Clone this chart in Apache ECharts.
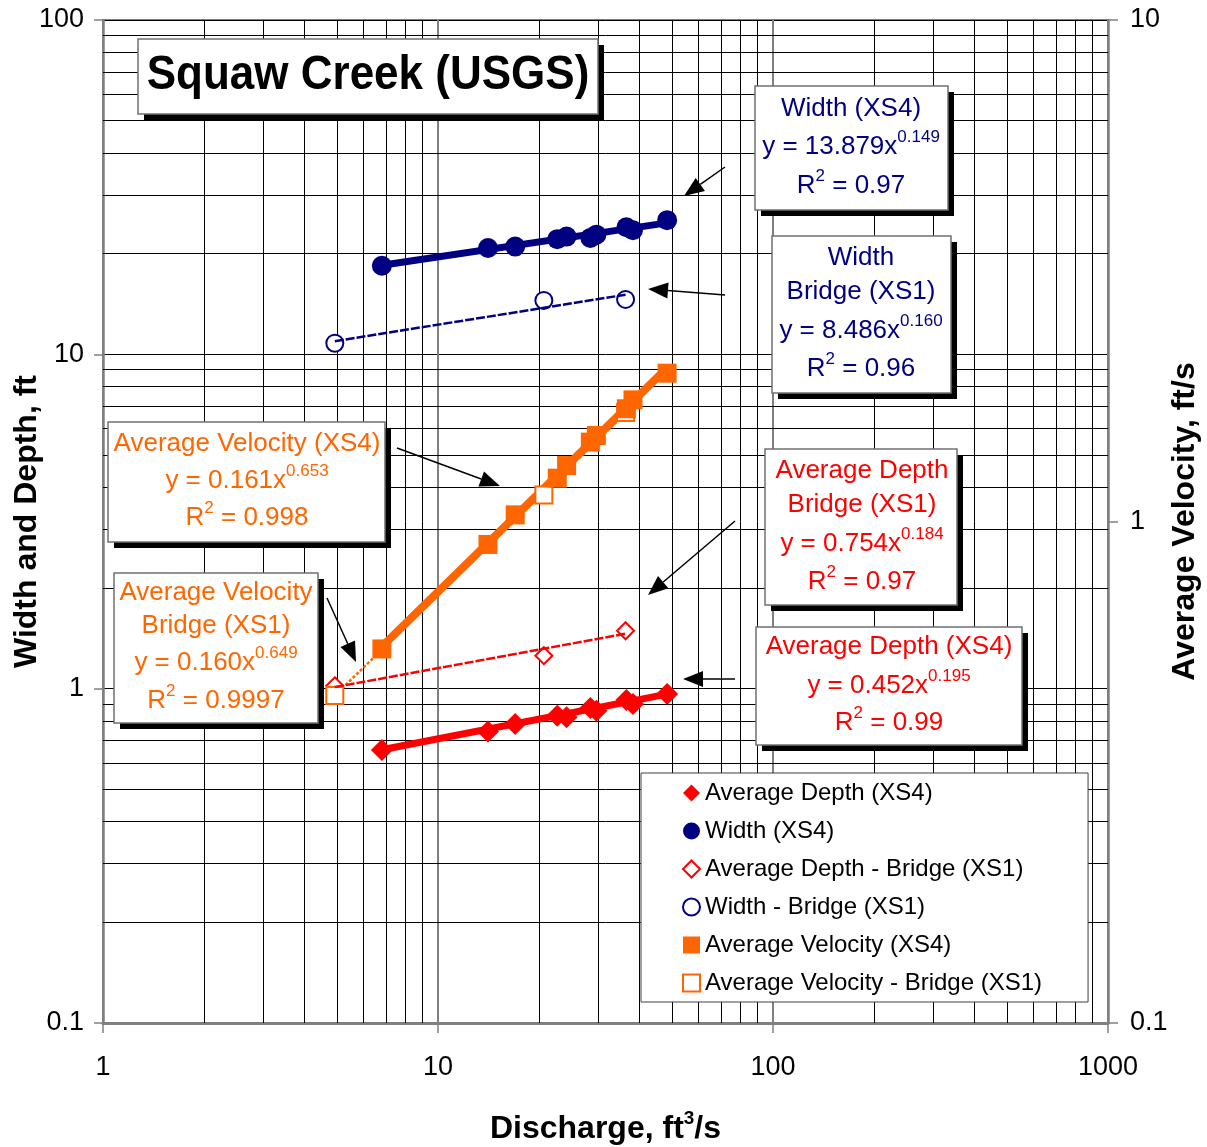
<!DOCTYPE html>
<html>
<head>
<meta charset="utf-8">
<script src="https://cdn.jsdelivr.net/npm/echarts@6/dist/echarts.min.js"></script>
<style>
  html, body { margin: 0; padding: 0; background: #fff; }
  #chart { width: 1207px; height: 1147px; }
</style>
</head>
<body>
<div id="chart"></div>
<script>
// Gauged flows at the upstream section (XS4), ft3/s
const dischargeXS4 = [6.8, 14.1, 17.0, 22.7, 24.2, 28.5, 29.7, 36.5, 38.2, 48.3];
const depthXS4     = [0.656, 0.745, 0.784, 0.830, 0.821, 0.876, 0.859, 0.925, 0.900, 0.964];
const widthXS4     = [18.4, 20.8, 21.0, 22.1, 22.5, 22.3, 22.8, 24.0, 23.5, 25.2];
const velocityXS4  = [0.557, 0.900, 1.031, 1.22, 1.293, 1.44, 1.484, 1.678, 1.748, 1.976];

// Measurements at the bridge section (XS1)
const dischargeXS1 = [4.92, 20.7, 36.3];
const depthXS1     = [1.02, 1.255, 1.49];
const widthXS1     = [10.8, 14.5, 14.6];
const velocityXS1  = [0.450, 1.13, 1.65];

// Power-law fits y = a * x^b  ->  [a, b]
const fitWidthXS4    = [13.879, 0.149];
const fitWidthXS1    = [8.486, 0.160];
const fitDepthXS4    = [0.452, 0.195];
const fitDepthXS1    = [0.754, 0.184];
const fitVelocityXS4 = [0.161, 0.653];
const fitVelocityXS1 = [0.160, 0.649];

// Decade labels on each axis
const dischargeTicks = [1, 10, 100, 1000];
const sizeTicks      = [0.1, 1, 10, 100];
const velocityTicks  = [0.1, 1, 10];

const NAVY = '#000080', RED = '#FF0000', ORANGE = '#FF6600';
const FONT = '"Liberation Sans", Arial, sans-serif';

function pairs(xs, ys) { return xs.map((x, i) => [x, ys[i]]); }
function fitLine(xs, fit) {
  const lo = Math.min(...xs), hi = Math.max(...xs);
  return [[lo, fit[0] * Math.pow(lo, fit[1])], [hi, fit[0] * Math.pow(hi, fit[1])]];
}

// Minor log gridlines (2..9 in every decade)
function minorValues(lo, hi) {
  const out = [];
  for (let d = lo; d < hi; d *= 10) for (let k = 2; k <= 9; k++) out.push(+(d * k).toPrecision(3));
  return out;
}
const xMin = dischargeTicks[0], xMax = dischargeTicks[dischargeTicks.length - 1];
const yMin = sizeTicks[0], yMax = sizeTicks[sizeTicks.length - 1];
const gridLines = [];
minorValues(xMin, xMax).forEach(v => gridLines.push({ coords: [[v, yMin], [v, yMax]] }));
minorValues(yMin, yMax).forEach(v => gridLines.push({ coords: [[xMin, v], [xMax, v]] }));

// ---- annotation helpers ----
const ZN = 100;
const rich = (color) => ({
  m: { fontSize: 26, fontFamily: FONT, color: color },
  s: { fontSize: 17, fontFamily: FONT, color: color, padding: [0, 0, 20, 0] }
});
function noteBox(x, y, w, h, color, cx, lines) {
  const children = [
    { type: 'rect', z: ZN, shape: { x: x + 6, y: y + 6, width: w, height: h }, style: { fill: '#000' } },
    { type: 'rect', z: ZN, shape: { x: x, y: y, width: w, height: h }, style: { fill: '#fff', stroke: '#707070', lineWidth: 1.5 } }
  ];
  lines.forEach(([ly, txt]) => {
    children.push({
      type: 'text', z: ZN + 1, x: cx, y: ly,
      style: { text: txt, rich: rich(color), align: 'center', verticalAlign: 'middle', font: '26px ' + FONT, fill: color }
    });
  });
  return { type: 'group', z: ZN, children: children };
}
function arrow(x1, y1, x2, y2) {
  const ang = Math.atan2(y2 - y1, x2 - x1), L = 20, W = 8;
  const bx = x2 - L * Math.cos(ang), by = y2 - L * Math.sin(ang);
  const px = -Math.sin(ang) * W, py = Math.cos(ang) * W;
  return {
    type: 'group', z: ZN, children: [
      { type: 'line', z: ZN, shape: { x1: x1, y1: y1, x2: bx, y2: by }, style: { stroke: '#000', lineWidth: 1.5 } },
      { type: 'polygon', z: ZN, shape: { points: [[x2, y2], [bx + px, by + py], [bx - px, by - py]] }, style: { fill: '#000' } }
    ]
  };
}

const chart = echarts.init(document.getElementById('chart'), null, { renderer: 'canvas' });

const labelStyle = { fontSize: 27, fontFamily: FONT, color: '#000' };
const nameStyle = { fontSize: 32, fontWeight: 'bold', fontFamily: FONT, color: '#000' };

chart.setOption({
  backgroundColor: '#fff',
  animation: false,
  grid: {
    left: 103, right: 99, top: 20, bottom: 124, containLabel: false, outerBoundsMode: 'none',
    show: true, borderColor: '#808080', borderWidth: 2
  },
  xAxis: {
    type: 'log', logBase: 10, min: xMin, max: xMax,
    name: '{b|Discharge, ft}{sup|3}{b|/s}',
    nameLocation: 'middle', nameGap: 86, nameMoveOverlap: false,
    nameTextStyle: {
      rich: {
        b: { fontSize: 32, fontWeight: 'bold', fontFamily: FONT, color: '#000' },
        sup: { fontSize: 19, fontWeight: 'bold', fontFamily: FONT, color: '#000', padding: [0, 0, 22, 0] }
      }
    },
    axisLine: { show: true, lineStyle: { color: '#808080', width: 3 } },
    axisTick: { show: true, inside: false, length: 10, lineStyle: { color: '#808080', width: 1.5 } },
    axisLabel: { ...labelStyle, margin: 31, formatter: v => dischargeTicks.includes(+v) ? String(+v) : '' },
    splitLine: { show: true, lineStyle: { color: '#808080', width: 2 } },
    minorTick: { show: false }, minorSplitLine: { show: false }
  },
  yAxis: [
    {
      type: 'log', logBase: 10, min: yMin, max: yMax, position: 'left',
      name: 'Width and Depth, ft', nameLocation: 'middle', nameGap: 60, nameRotate: 90, nameMoveOverlap: false,
      nameTextStyle: nameStyle,
      axisLine: { show: true, lineStyle: { color: '#808080', width: 2.5 } },
      axisTick: { show: true, inside: false, length: 9, lineStyle: { color: '#808080', width: 1.5 } },
      axisLabel: { ...labelStyle, margin: 19, formatter: v => sizeTicks.includes(+v) ? String(+v) : '' },
      splitLine: { show: true, lineStyle: { color: '#000', width: 1 } }
    },
    {
      type: 'log', logBase: 10, min: velocityTicks[0], max: velocityTicks[velocityTicks.length - 1], position: 'right',
      name: 'Average Velocity, ft/s', nameLocation: 'middle', nameGap: 61, nameRotate: 90, nameMoveOverlap: false,
      nameTextStyle: nameStyle,
      axisLine: { show: true, lineStyle: { color: '#808080', width: 2.5 } },
      axisTick: { show: true, inside: false, length: 10, lineStyle: { color: '#808080', width: 1.5 } },
      axisLabel: { ...labelStyle, margin: 22, formatter: v => velocityTicks.includes(+v) ? String(+v) : '' },
      splitLine: { show: false }
    }
  ],
  legend: {
    orient: 'vertical', left: 641, top: 773,
    backgroundColor: '#fff', borderColor: '#404040', borderWidth: 1,
    padding: [8, 46, 7, 41],
    itemWidth: 17, itemHeight: 17, itemGap: 14,
    textStyle: { fontSize: 24, fontFamily: FONT, color: '#000', lineHeight: 24 },
    data: ['Average Depth (XS4)', 'Width (XS4)', 'Average Depth - Bridge (XS1)',
           'Width - Bridge (XS1)', 'Average Velocity (XS4)', 'Average Velocity - Bridge (XS1)'],
    z: 50
  },
  graphic: [
    {
      type: 'group', z: ZN, children: [
        { type: 'rect', z: ZN, shape: { x: 144, y: 45, width: 460, height: 75 }, style: { fill: '#000' } },
        { type: 'rect', z: ZN, shape: { x: 138, y: 39, width: 460, height: 75 }, style: { fill: '#fff', stroke: '#707070', lineWidth: 1.5 } },
        { type: 'text', z: ZN + 1, x: 368, y: 76, scaleY: 1.08, originY: 0,
          style: { text: 'Squaw Creek (USGS)', font: 'bold 44px ' + FONT, fill: '#000', align: 'center', verticalAlign: 'middle' } }
      ]
    },
    noteBox(755, 86, 193, 124, NAVY, 851, [
      [109, '{m|Width (XS4)}'], [147, '{m|y = 13.879x}{s|0.149}'], [186, '{m|R}{s|2}{m| = 0.97}']
    ]),
    noteBox(772, 236, 179, 157, NAVY, 861, [
      [258, '{m|Width}'], [292, '{m|Bridge (XS1)}'], [331, '{m|y = 8.486x}{s|0.160}'], [369, '{m|R}{s|2}{m| = 0.96}']
    ]),
    noteBox(108, 422, 277, 120, ORANGE, 247, [
      [444, '{m|Average Velocity (XS4)}'], [481, '{m|y = 0.161x}{s|0.653}'], [518, '{m|R}{s|2}{m| = 0.998}']
    ]),
    noteBox(114, 573, 204, 150, ORANGE, 216, [
      [593, '{m|Average Velocity}'], [626, '{m|Bridge (XS1)}'], [663, '{m|y = 0.160x}{s|0.649}'], [701, '{m|R}{s|2}{m| = 0.9997}']
    ]),
    noteBox(765, 449, 192, 156, RED, 862, [
      [471, '{m|Average Depth}'], [505, '{m|Bridge (XS1)}'], [544, '{m|y = 0.754x}{s|0.184}'], [582, '{m|R}{s|2}{m| = 0.97}']
    ]),
    noteBox(756, 627, 266, 118, RED, 889, [
      [647, '{m|Average Depth (XS4)}'], [686, '{m|y = 0.452x}{s|0.195}'], [723, '{m|R}{s|2}{m| = 0.99}']
    ]),
    arrow(725, 167, 684, 196),
    arrow(725, 295, 648, 289),
    arrow(397, 448, 500, 486),
    arrow(327, 598, 356, 662),
    arrow(735, 521, 648, 595),
    arrow(735, 679, 683, 679)
  ],
  series: [
    {
      name: 'minor grid', type: 'lines', coordinateSystem: 'cartesian2d', xAxisIndex: 0, yAxisIndex: 0,
      silent: true, z: 1, polyline: false, symbol: 'none', large: false,
      lineStyle: { color: '#000', width: 1, opacity: 1 },
      data: gridLines
    },
    // power-law fits
    { name: 'fit depth XS4', type: 'line', yAxisIndex: 0, data: fitLine(dischargeXS4, fitDepthXS4), showSymbol: false, silent: true, z: 3,
      lineStyle: { color: RED, width: 7 } },
    { name: 'fit width XS4', type: 'line', yAxisIndex: 0, data: fitLine(dischargeXS4, fitWidthXS4), showSymbol: false, silent: true, z: 3,
      lineStyle: { color: NAVY, width: 7 } },
    { name: 'fit velocity XS4', type: 'line', yAxisIndex: 1, data: fitLine(dischargeXS4, fitVelocityXS4), showSymbol: false, silent: true, z: 3,
      lineStyle: { color: ORANGE, width: 8 } },
    // bridge points (beneath the XS4 points)
    { name: 'Average Depth - Bridge (XS1)', type: 'scatter', yAxisIndex: 0, symbol: 'emptyDiamond', symbolSize: 17,
      itemStyle: { color: RED, borderWidth: 2, opacity: 1 }, data: pairs(dischargeXS1, depthXS1), z: 3.5 },
    { name: 'Width - Bridge (XS1)', type: 'scatter', yAxisIndex: 0, symbol: 'emptyCircle', symbolSize: 17,
      itemStyle: { color: NAVY, borderWidth: 2, opacity: 1 }, data: pairs(dischargeXS1, widthXS1), z: 3.5 },
    { name: 'Average Velocity - Bridge (XS1)', type: 'scatter', yAxisIndex: 1, symbol: 'emptyRect', symbolSize: 17,
      itemStyle: { color: ORANGE, borderWidth: 2, opacity: 1 }, data: pairs(dischargeXS1, velocityXS1), z: 3.5 },
    // XS4 points
    { name: 'Average Depth (XS4)', type: 'scatter', yAxisIndex: 0, symbol: 'diamond', symbolSize: 22,
      itemStyle: { color: RED, opacity: 1 }, data: pairs(dischargeXS4, depthXS4), z: 4 },
    { name: 'Width (XS4)', type: 'scatter', yAxisIndex: 0, symbol: 'circle', symbolSize: 20,
      itemStyle: { color: NAVY, opacity: 1 }, data: pairs(dischargeXS4, widthXS4), z: 4 },
    { name: 'Average Velocity (XS4)', type: 'scatter', yAxisIndex: 1, symbol: 'rect', symbolSize: 19,
      itemStyle: { color: ORANGE, opacity: 1 }, data: pairs(dischargeXS4, velocityXS4), z: 4 },
    // bridge fits drawn over the hollow markers
    { name: 'fit depth XS1', type: 'line', yAxisIndex: 0, data: fitLine(dischargeXS1, fitDepthXS1), showSymbol: false, silent: true, z: 5,
      lineStyle: { color: RED, width: 2.5, type: [9, 2] } },
    { name: 'fit width XS1', type: 'line', yAxisIndex: 0, data: fitLine(dischargeXS1, fitWidthXS1), showSymbol: false, silent: true, z: 5,
      lineStyle: { color: NAVY, width: 2.5, type: [9, 2] } },
    { name: 'fit velocity XS1', type: 'line', yAxisIndex: 1, data: fitLine(dischargeXS1, fitVelocityXS1), showSymbol: false, silent: true, z: 2,
      lineStyle: { color: ORANGE, width: 2.5, type: [3, 2] } }
  ]
});
</script>
</body>
</html>
